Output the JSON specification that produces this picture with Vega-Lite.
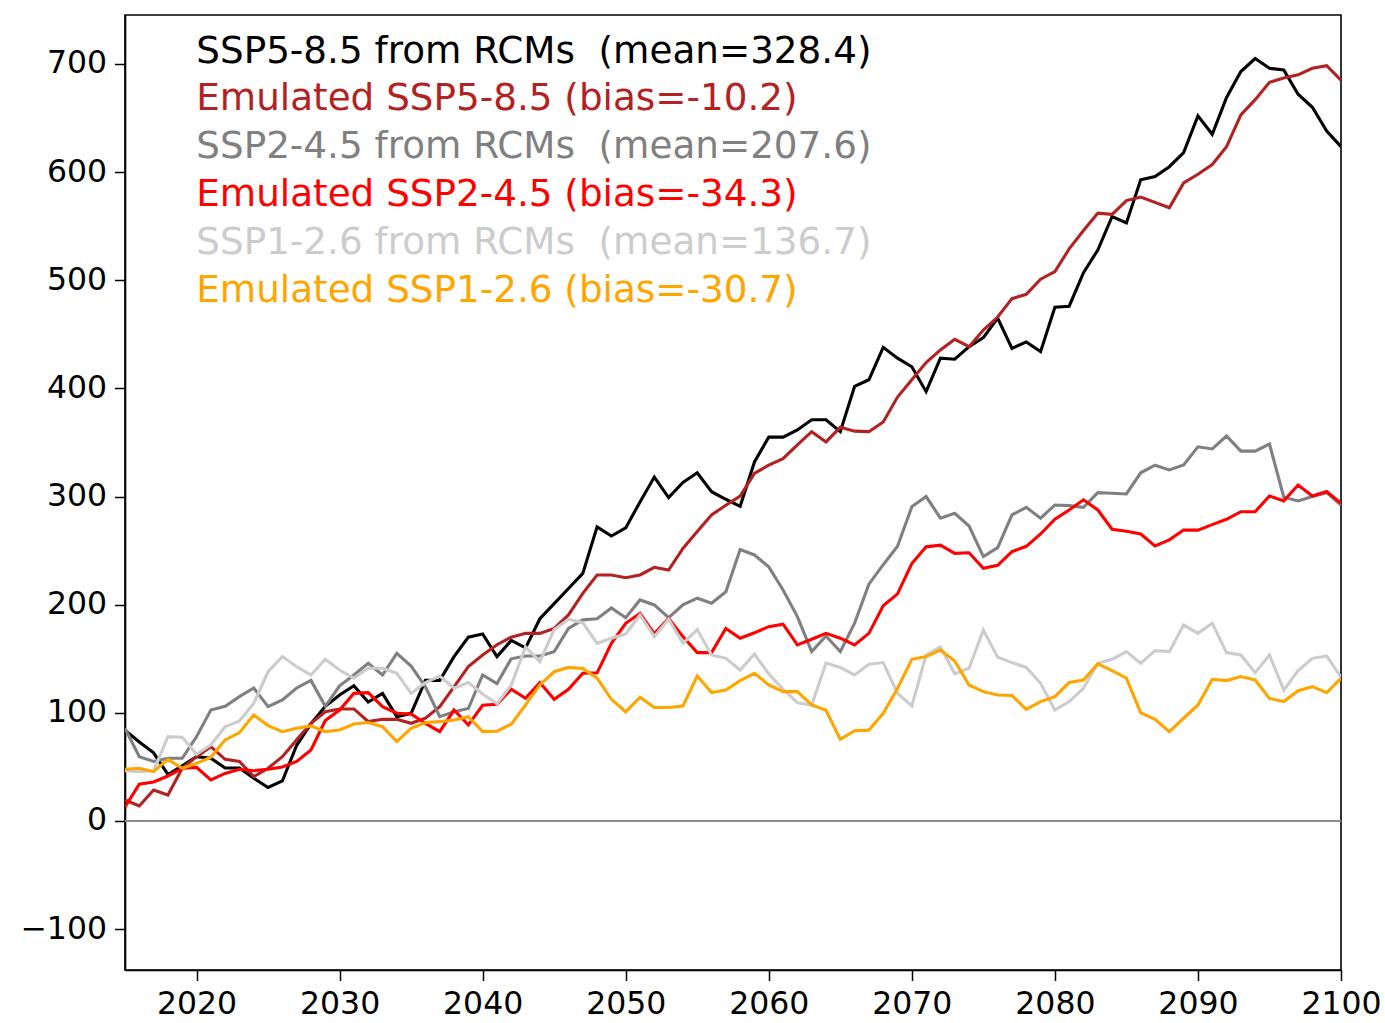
{
  "$schema": "https://vega.github.io/schema/vega-lite/v6.json",
  "autosize": "none",
  "width": 1216,
  "height": 955,
  "padding": {"left": 125, "top": 15, "right": 44, "bottom": 53},
  "background": "white",
  "config": {
    "view": {"stroke": "black", "strokeWidth": 1.6},
    "axis": {
      "labelFont": "DejaVu Sans", "labelFontSize": 31.5, "labelColor": "black",
      "tickColor": "black", "tickSize": 10.5, "tickWidth": 1.5,
      "domainColor": "black", "domainWidth": 1.6, "grid": false, "title": null, "labelPadding": 8
    }
  },
  "data": {"values": [
    {"year":2015,"a":84,"b":19.4,"c":85.7,"d":13,"e":46.5,"f":47.8},
    {"year":2016,"a":73,"b":13.9,"c":59.5,"d":34,"e":45.6,"f":48.7},
    {"year":2017,"a":63,"b":28.7,"c":55,"d":36,"e":46.5,"f":45.6},
    {"year":2018,"a":43,"b":24,"c":58,"d":41.6,"e":78,"f":57},
    {"year":2019,"a":51,"b":48.7,"c":58,"d":48.7,"e":77.4,"f":48.7},
    {"year":2020,"a":59.5,"b":59.5,"c":78,"d":49.6,"e":61.7,"f":53.3},
    {"year":2021,"a":58,"b":68.7,"c":102.6,"d":38,"e":70.3,"f":58.9},
    {"year":2022,"a":49,"b":57,"c":106,"d":44,"e":87.2,"f":75},
    {"year":2023,"a":49,"b":55,"c":115,"d":47.8,"e":92.5,"f":81.7},
    {"year":2024,"a":39.5,"b":41,"c":123,"d":46.5,"e":108.8,"f":98},
    {"year":2025,"a":31,"b":48.7,"c":105.7,"d":47.8,"e":138,"f":88.2},
    {"year":2026,"a":37,"b":59.5,"c":112,"d":50,"e":152,"f":82.6},
    {"year":2027,"a":70,"b":75,"c":123,"d":55,"e":142.7,"f":85.7},
    {"year":2028,"a":90,"b":90.3,"c":130,"d":65.7,"e":135,"f":87.9},
    {"year":2029,"a":106,"b":101,"c":106,"d":92.8,"e":149.5,"f":82.6},
    {"year":2030,"a":116.5,"b":103.6,"c":125,"d":102.6,"e":139.6,"f":84.2},
    {"year":2031,"a":125,"b":103.6,"c":135,"d":118,"e":132,"f":89.7},
    {"year":2032,"a":110,"b":92,"c":145.8,"d":118.7,"e":141.2,"f":91},
    {"year":2033,"a":118,"b":94,"c":135,"d":105.7,"e":141.2,"f":87.2},
    {"year":2034,"a":96.5,"b":94,"c":155,"d":99.6,"e":136.6,"f":73.4},
    {"year":2035,"a":99.5,"b":90.3,"c":143.3,"d":99,"e":118,"f":85.7},
    {"year":2036,"a":130,"b":95,"c":124,"d":90.3,"e":128,"f":91},
    {"year":2037,"a":130,"b":105.7,"c":96.5,"d":82.6,"e":134,"f":91.9},
    {"year":2038,"a":152,"b":124,"c":101,"d":102.6,"e":122.7,"f":93.4},
    {"year":2039,"a":170,"b":142.7,"c":104,"d":88.8,"e":128,"f":96.5},
    {"year":2040,"a":173,"b":153.5,"c":135,"d":107,"e":117.4,"f":82.6},
    {"year":2041,"a":152,"b":163,"c":127,"d":108,"e":108.5,"f":83},
    {"year":2042,"a":167,"b":170,"c":150,"d":121.8,"e":125.8,"f":89.5},
    {"year":2043,"a":160,"b":173.5,"c":152.6,"d":113.4,"e":161,"f":107.3},
    {"year":2044,"a":187,"b":173.5,"c":152.6,"d":128,"e":147.3,"f":125.8},
    {"year":2045,"a":201,"b":178,"c":156.6,"d":112.5,"e":177,"f":138},
    {"year":2046,"a":215,"b":190.5,"c":178,"d":121.8,"e":186.5,"f":142},
    {"year":2047,"a":229,"b":210.5,"c":186,"d":136.6,"e":183.4,"f":141},
    {"year":2048,"a":272,"b":227.5,"c":187,"d":137,"e":164.3,"f":132},
    {"year":2049,"a":263.5,"b":227.5,"c":197,"d":164.3,"e":169,"f":112.5},
    {"year":2050,"a":271,"b":225,"c":188,"d":182.8,"e":173,"f":101},
    {"year":2051,"a":295,"b":227.5,"c":204.4,"d":192,"e":190.5,"f":114.4},
    {"year":2052,"a":318,"b":234.6,"c":199.8,"d":173,"e":170.5,"f":105},
    {"year":2053,"a":299,"b":232,"c":188,"d":187.4,"e":186.5,"f":105},
    {"year":2054,"a":313,"b":252,"c":199.8,"d":170.5,"e":164.3,"f":106.3},
    {"year":2055,"a":322,"b":267.6,"c":206,"d":155.7,"e":177,"f":134},
    {"year":2056,"a":304.5,"b":283,"c":201.3,"d":155.7,"e":153.5,"f":118.7},
    {"year":2057,"a":297.5,"b":292,"c":212,"d":178,"e":150.4,"f":121},
    {"year":2058,"a":291,"b":300.5,"c":251,"d":169,"e":139.6,"f":129.8},
    {"year":2059,"a":332,"b":321.5,"c":246,"d":174,"e":154.4,"f":136.6},
    {"year":2060,"a":355,"b":329,"c":235,"d":179.7,"e":136,"f":125.8},
    {"year":2061,"a":355,"b":335,"c":213.6,"d":182,"e":121.8,"f":119.6},
    {"year":2062,"a":361.6,"b":347.7,"c":189,"d":162.8,"e":109.4,"f":119.6},
    {"year":2063,"a":371,"b":360,"c":156.6,"d":168,"e":107.3,"f":107.3},
    {"year":2064,"a":371,"b":350.5,"c":171,"d":173.5,"e":146,"f":102.3},
    {"year":2065,"a":360,"b":364,"c":156.6,"d":169,"e":142,"f":75.5},
    {"year":2066,"a":402,"b":360.5,"c":183,"d":162.8,"e":135,"f":83.5},
    {"year":2067,"a":408,"b":360,"c":219,"d":173.5,"e":145,"f":84},
    {"year":2068,"a":438,"b":369,"c":237,"d":199,"e":146.5,"f":99.6},
    {"year":2069,"a":428,"b":392,"c":254,"d":210,"e":118,"f":122.5},
    {"year":2070,"a":420,"b":408,"c":290.5,"d":238,"e":106.3,"f":149.5},
    {"year":2071,"a":397,"b":424,"c":300,"d":253.5,"e":153.5,"f":152},
    {"year":2072,"a":428,"b":435.6,"c":280,"d":255,"e":161,"f":158},
    {"year":2073,"a":427,"b":445.4,"c":284.5,"d":247.5,"e":136,"f":148},
    {"year":2074,"a":438.6,"b":438.6,"c":272.8,"d":248,"e":141.2,"f":125.8},
    {"year":2075,"a":447,"b":454,"c":244.5,"d":233.7,"e":176.6,"f":119.6},
    {"year":2076,"a":465,"b":466,"c":252.8,"d":236.4,"e":151.4,"f":116.5},
    {"year":2077,"a":437,"b":483,"c":283,"d":249,"e":146.4,"f":116},
    {"year":2078,"a":443,"b":487,"c":290,"d":254,"e":142,"f":103.3},
    {"year":2079,"a":434,"b":501,"c":280,"d":265.4,"e":127.3,"f":110.4},
    {"year":2080,"a":475,"b":508,"c":292.2,"d":279,"e":102.6,"f":115},
    {"year":2081,"a":476,"b":529,"c":291.6,"d":287.6,"e":110.4,"f":128},
    {"year":2082,"a":507,"b":546,"c":290,"d":297,"e":122.7,"f":130.4},
    {"year":2083,"a":528,"b":562,"c":303.6,"d":287.6,"e":145.8,"f":145.2},
    {"year":2084,"a":559,"b":561,"c":303,"d":269.8,"e":149.5,"f":139},
    {"year":2085,"a":553,"b":573.7,"c":302.4,"d":268,"e":156.6,"f":132},
    {"year":2086,"a":593,"b":577,"c":322,"d":265.4,"e":145.8,"f":100},
    {"year":2087,"a":596,"b":572,"c":329,"d":254.3,"e":157.5,"f":94},
    {"year":2088,"a":605,"b":567,"c":324.6,"d":260,"e":156.6,"f":82.6},
    {"year":2089,"a":618,"b":590,"c":329.2,"d":269,"e":181.3,"f":95},
    {"year":2090,"a":652,"b":598,"c":346,"d":269,"e":173.5,"f":107.3},
    {"year":2091,"a":635,"b":607,"c":344,"d":274,"e":182.8,"f":131},
    {"year":2092,"a":669,"b":623.6,"c":356,"d":279,"e":155.7,"f":129.8},
    {"year":2093,"a":693,"b":653,"c":342,"d":286,"e":153.5,"f":133.5},
    {"year":2094,"a":705,"b":667,"c":342,"d":286,"e":137.2,"f":130.4},
    {"year":2095,"a":696,"b":683,"c":348.6,"d":300.5,"e":153.5,"f":113.4},
    {"year":2096,"a":694.5,"b":687,"c":299.4,"d":296,"e":121,"f":110.4},
    {"year":2097,"a":672,"b":690,"c":296,"d":310.7,"e":139,"f":120.5},
    {"year":2098,"a":660,"b":696,"c":300,"d":300.5,"e":150.4,"f":124.2},
    {"year":2099,"a":638,"b":698.5,"c":303.6,"d":304.6,"e":152.6,"f":118.7},
    {"year":2100,"a":623.6,"b":685,"c":292,"d":293.8,"e":132.9,"f":132}
  ]},
  "layer": [
    {
      "mark": {"type": "rule", "color": "#8c8c8c", "strokeWidth": 1},
      "encoding": {
        "y": {"datum": 0, "type": "quantitative", "scale": {"domain": [-137.8, 745.3], "nice": false, "zero": false}}
      }
    },
    {
      "transform": [{"fold": ["a", "b", "c", "d", "e", "f"], "as": ["s", "v"]}],
      "mark": {"type": "line", "strokeWidth": 3.1, "clip": true},
      "encoding": {
        "x": {
          "field": "year", "type": "quantitative",
          "scale": {"domain": [2015, 2100], "nice": false, "zero": false},
          "axis": {"values": [2020, 2030, 2040, 2050, 2060, 2070, 2080, 2090, 2100], "format": "d", "labelFlush": false, "labelOverlap": false}
        },
        "y": {
          "field": "v", "type": "quantitative",
          "scale": {"domain": [-137.8, 745.3], "nice": false, "zero": false},
          "axis": {"values": [-100, 0, 100, 200, 300, 400, 500, 600, 700], "labelExpr": "replace(datum.label, '-', '\u2212')", "labelOverlap": false}
        },
        "color": {
          "field": "s", "type": "nominal",
          "scale": {"domain": ["a", "b", "c", "d", "e", "f"], "range": ["#000000", "#b22222", "#808080", "#ff0000", "#cccccc", "#ffa500"]},
          "legend": {
            "orient": "none", "legendX": 34, "legendY": 18, "title": null,
            "symbolSize": 0, "symbolOpacity": 0, "symbolStrokeWidth": 0, "labelOffset": 0,
            "labelFont": "DejaVu Sans", "labelFontSize": 37.3, "labelLimit": 2000,
            "rowPadding": 9.8, "padding": 0,
            "labelExpr": "{'a': 'SSP5-8.5 from RCMs\u00a0 (mean=328.4)', 'b': 'Emulated SSP5-8.5 (bias=-10.2)', 'c': 'SSP2-4.5 from RCMs\u00a0 (mean=207.6)', 'd': 'Emulated SSP2-4.5 (bias=-34.3)', 'e': 'SSP1-2.6 from RCMs\u00a0 (mean=136.7)', 'f': 'Emulated SSP1-2.6 (bias=-30.7)'}[datum.value]",
            "encode": {"labels": {"update": {"fill": {"scale": "color", "field": "value"}}}}
          }
        }
      }
    }
  ]
}
